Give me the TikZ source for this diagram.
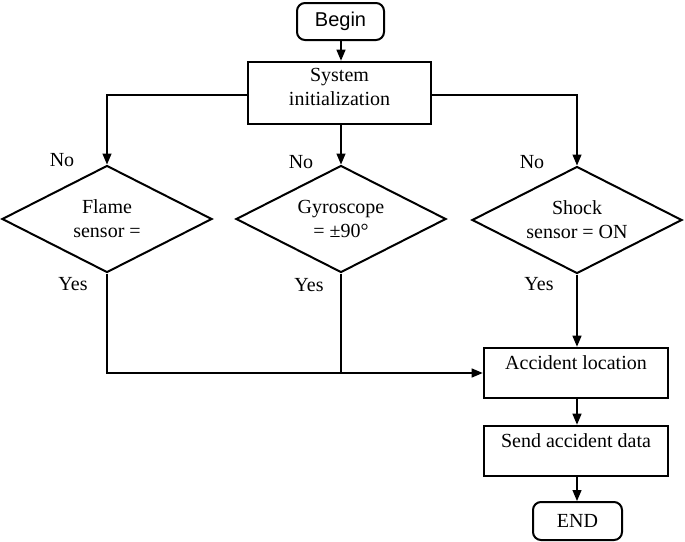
\documentclass[tikz,border=0pt]{standalone}
\usepackage{fontspec}
\setmainfont{Liberation Serif}
\newfontfamily\arialfont{Liberation Sans}
\usetikzlibrary{shapes.geometric,arrows.meta}
\tikzset{
  term/.style={draw,line width=2pt,rounded corners=8pt,inner sep=0pt,font=\fontsize{20}{24}\selectfont},
  procbox/.style={draw,line width=2.6pt,inner sep=0pt,align=center,font=\fontsize{20}{24}\selectfont},
  decision/.style={draw,diamond,line width=2pt,inner sep=0pt,minimum width=210pt,minimum height=107pt,
    label={[align=center,inner sep=0pt,font=\fontsize{20}{24}\selectfont]center:#1}},
  lbl/.style={inner sep=0pt,font=\fontsize{20}{24}\selectfont},
  conn/.style={line width=1.3pt},
  arr/.style={conn,-{Triangle[length=11pt,width=9pt]}}
}
\begin{document}
\begin{tikzpicture}[x=1pt,y=-1pt]
\useasboundingbox (0,0) rectangle (685,541);
\node[term,minimum width=87pt,minimum height=37pt,font=\arialfont\fontsize{20}{24}\selectfont] (begin) at (340.5,21.5) {Begin};
\node[procbox,minimum width=183pt,minimum height=62pt] (init) at (339.5,93) {System\\initialization\\[-12pt]\mbox{}};
\node[decision={Flame\\sensor =}] (d1) at (107,219) {};
\node[decision={Gyroscope\\= ±90°}] (d2) at (341,219) {};
\node[decision={Shock\\sensor = ON}] (d3) at (577,220) {};
\node[procbox,minimum width=184pt,minimum height=50pt,text height=14pt,text depth=21pt] (acc) at (576,373) {Accident location};
\node[procbox,minimum width=184pt,minimum height=50pt,text height=14pt,text depth=21pt] (send) at (576,451) {Send accident data};
\node[term,minimum width=89pt,minimum height=38pt] (end) at (577.5,521) {END};
\node[lbl] (no1) at (62,160) {No};
\node[lbl] (no2) at (301,162) {No};
\node[lbl] (no3) at (532,162) {No};
\node[lbl] (yes1) at (73,284) {Yes};
\node[lbl] (yes2) at (309,285) {Yes};
\node[lbl] (yes3) at (539,284) {Yes};
\draw[arr] (begin.south -| d2.north) -- (init.north -| d2.north);
\draw[arr] ([yshift=-2pt]init.west) -| (d1.north);
\draw[arr] ([yshift=-2pt]init.east) -| (d3.north);
\draw[arr] (init.south -| d2.north) -- (d2.north);
\draw[arr] (d1.south) |- (acc.west);
\draw[conn] (d2.south) -- (d2.south |- acc.west);
\draw[arr] (d3.south) -- (d3.south |- acc.north);
\draw[arr] (acc.south -| d3.south) -- (send.north -| d3.south);
\draw[arr] (send.south -| d3.south) -- (end.north -| d3.south);
\end{tikzpicture}
\end{document}
